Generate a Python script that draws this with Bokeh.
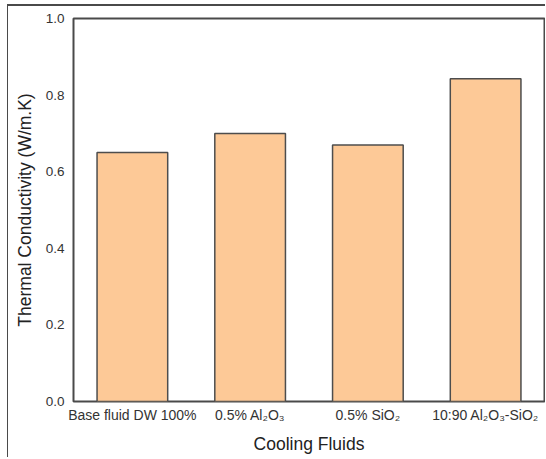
from bokeh.plotting import figure
from bokeh.models import FactorRange, Range1d, FixedTicker, NumeralTickFormatter, ColumnDataSource
from bokeh.embed import file_html
from bokeh.resources import INLINE

categories = ["Base fluid DW 100%", "0.5% Al₂O₃", "0.5% SiO₂", "10:90 Al₂O₃-SiO₂"]
conductivity = [0.65, 0.70, 0.67, 0.843]
y_ticks = [0.0, 0.2, 0.4, 0.6, 0.8, 1.0]

src = ColumnDataSource(dict(cat=categories, val=conductivity))

p = figure(x_range=FactorRange(*categories), y_range=Range1d(0, 1.0),
           width=538, height=453, output_backend="svg", toolbar_location=None,
           min_border_left=65, min_border_top=12, min_border_right=2, min_border_bottom=58)
p.styles = {"margin-left": "7px", "margin-top": "4px",
            "border-left": "1px solid #4a4a4a", "border-top": "2px solid #4a4a4a"}

p.vbar(x="cat", top="val", width=0.6, source=src, fill_color="#FDC997",
       line_color="#4d4d4d", line_width=1.5)

p.xgrid.grid_line_color = None
p.ygrid.grid_line_color = None
p.outline_line_color = "#4a4a4a"
p.outline_line_width = 2

for ax in (p.xaxis[0], p.yaxis[0]):
    ax.axis_line_color = None
    ax.major_tick_line_color = None
    ax.minor_tick_line_color = None
    ax.major_tick_out = 0
    ax.major_tick_in = 0
    ax.major_label_text_font = "Liberation Sans"
    ax.major_label_text_color = "#333333"
    ax.axis_label_text_font = "Liberation Sans"
    ax.axis_label_text_font_size = "17.5px"
    ax.axis_label_text_font_style = "normal"
    ax.axis_label_text_color = "#222222"

p.xaxis.major_label_text_font_size = "14px"
p.yaxis.major_label_text_font_size = "13.5px"
p.yaxis.ticker = FixedTicker(ticks=y_ticks)
p.yaxis.formatter = NumeralTickFormatter(format="0.0")
p.yaxis.major_label_standoff = 9
p.yaxis.axis_label = "Thermal Conductivity (W/m.K)"
p.yaxis.axis_label_standoff = 8
p.xaxis.axis_label = "Cooling Fluids"
p.xaxis.major_label_standoff = 5
p.xaxis.axis_label_standoff = 8

open("out.html", "w").write(file_html(p, INLINE))
